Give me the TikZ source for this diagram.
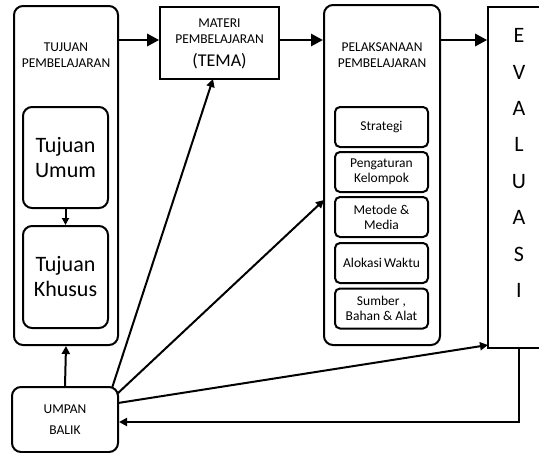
\documentclass[tikz,border=0pt]{standalone}
\usepackage{fontspec}
\setmainfont{Carlito}
\usetikzlibrary{arrows.meta}
\begin{document}
\begin{tikzpicture}[x=1pt,y=-1pt,
  rbox/.style={draw,line width=2pt,rounded corners=9pt,inner sep=0pt},
  ibox/.style={draw,line width=2pt,rounded corners=5pt,inner sep=0pt,minimum width=93pt,minimum height=40pt,font=\fontsize{13.5}{15}\selectfont,align=center},
  sbox/.style={draw,line width=1.6pt,inner sep=0pt},
  lbl/.style={align=center,inner sep=0pt,font=\fontsize{13.5}{16}\selectfont},
  bigarrow/.style={line width=2.8pt,-{Triangle[length=12pt,width=12pt]}},
  thinarrow/.style={line width=2pt,-{Triangle[length=8pt,width=8pt]}},
  thinline/.style={line width=2pt}]
\useasboundingbox (0,0) rectangle (539,453);
% Tujuan pembelajaran
\node[rbox,minimum width=104pt,minimum height=339pt] (tujuan) at (66,175.5) {};
\node[lbl] (tujuanlbl) at (66,55) {TUJUAN\\PEMBELAJARAN};
\node[rbox,minimum width=85pt,minimum height=101pt,align=center,font=\fontsize{22}{25}\selectfont] (umum) at (65.5,157.5) {Tujuan\\Umum};
\node[rbox,minimum width=85pt,minimum height=102pt,align=center,font=\fontsize{22}{25}\selectfont] (khusus) at (65.5,277) {Tujuan\\Khusus};
\draw[thinarrow,-{Triangle[length=7pt,width=7pt]}] (umum) -- (khusus);
% Materi
\node[sbox,minimum width=119pt,minimum height=72pt] (materi) at (219.5,43) {};
\node[lbl] (materilbl) at (219.5,31) {MATERI\\PEMBELAJARAN};
\node[inner sep=0pt,font=\fontsize{18}{20}\selectfont] (tema) at (219.5,61) {(TEMA)};
% Pelaksanaan
\node[rbox,minimum width=116pt,minimum height=340pt] (pelak) at (382,175) {};
\node[lbl] (pelaklbl) at (382,55) {PELAKSANAAN\\PEMBELAJARAN};
\node[ibox] (strategi) at (381.5,127) {Strategi};
\node[ibox] (pengaturan) at (381.5,172) {Pengaturan\\Kelompok};
\node[ibox] (metode) at (381.5,217) {Metode \&\\Media};
\node[ibox] (alokasi) at (381.5,263) {Alokasi\,Waktu};
\node[ibox] (sumber) at (381.5,308.5) {Sumber ,\\Bahan \& Alat};
% Evaluasi
\node[sbox,minimum width=57pt,minimum height=341pt] (eval) at (516.5,177.5) {};
\node[inner sep=0pt,align=center,font=\fontsize{22}{36.4}\selectfont] (evallbl) at (519,163) {E\\V\\A\\L\\U\\A\\S\\I};
% Umpan balik
\node[rbox,minimum width=106pt,minimum height=65pt,align=center,font=\fontsize{13.5}{21}\selectfont] (umpan) at (65,419.5) {UMPAN\\BALIK};
% top arrows
\draw[bigarrow] (tujuan.east |- 0,40) -- (materi.west |- 0,40);
\draw[bigarrow] (materi.east |- 0,40) -- (pelak.west |- 0,40);
\draw[bigarrow] (pelak.east |- 0,40) -- (eval.west |- 0,40);
% feedback
\coordinate (u1) at (112,388);
\coordinate (u2) at (117,394);
\coordinate (u3) at (118,403);
\coordinate (m1) at (213,79);
\coordinate (p1) at (324,200);
\coordinate (e1) at (488,345);
\coordinate (ev) at (519,348);
\coordinate (corner) at (519,422);
\draw[thinarrow] (umpan.north) -- (tujuan.south);
\draw[thinarrow] (u1) -- (m1);
\draw[thinarrow] (u2) -- (p1);
\draw[thinarrow] (u3) -- (e1);
\draw[thinarrow] (ev) -- (corner) -- (umpan.east |- corner);
\end{tikzpicture}
\end{document}
